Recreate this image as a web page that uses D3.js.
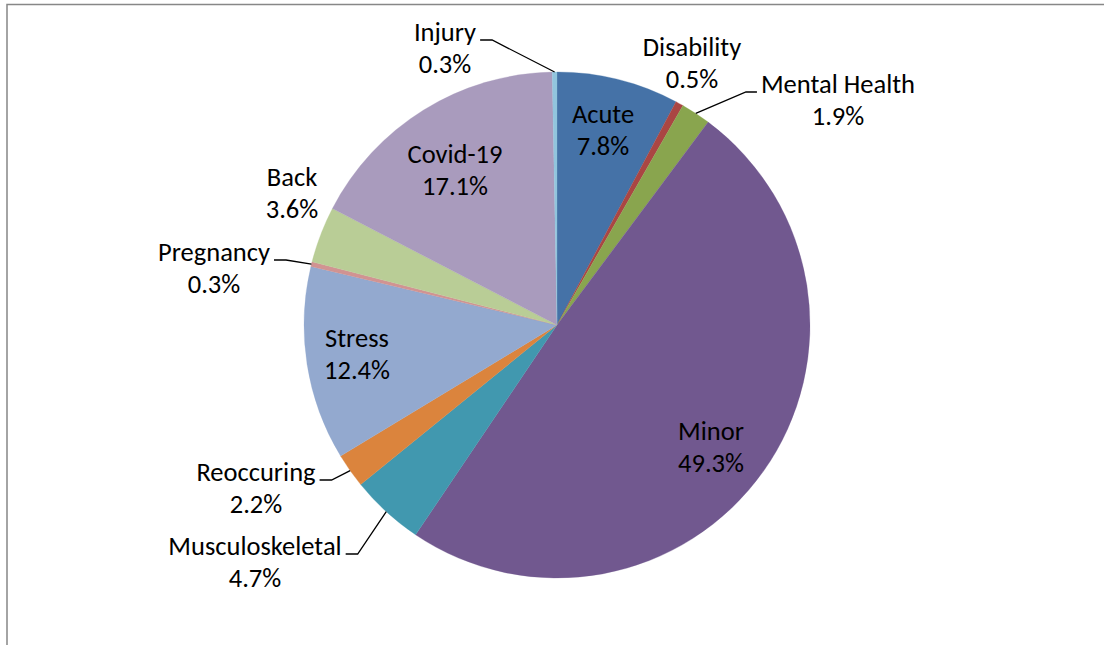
<!DOCTYPE html>
<html><head><meta charset="utf-8">
<script src="https://cdn.jsdelivr.net/npm/d3@7"></script>
<style>body{margin:0;background:#fff}svg{display:block}text{font-family:Carlito,Lato,"Open Sans",sans-serif;font-size:26.5px;fill:#000}</style>
</head><body>
<svg id="c" width="1104" height="645"></svg>
<script>
const categories = ["Acute","Disability","Mental Health","Minor","Musculoskeletal","Reoccuring","Stress","Pregnancy","Back","Covid-19","Injury"];
const values = [7.8,0.5,1.9,49.3,4.7,2.2,12.4,0.3,3.6,17.1,0.3];
const valueLabels = ["7.8%","0.5%","1.9%","49.3%","4.7%","2.2%","12.4%","0.3%","3.6%","17.1%","0.3%"];
const colors = ["#4572A7","#AA4643","#89A54E","#71588F","#4198AF","#DB843D","#93A9CF","#D19392","#B9CD96","#A99BBD","#92C5DE"];

// layout: label centres and leader anchor side
const labelPos = [
  {x:603,y:114},{x:692,y:47},{x:838,y:84},{x:711,y:431},{x:255,y:546},
  {x:256,y:472},{x:357,y:338},{x:214,y:252},{x:292,y:177},{x:455,y:154},{x:445,y:32}
];
const leaders = {2:"left",4:"right",5:"right",7:"right",10:"right"};

const svg = d3.select("#c");
svg.append("rect").attr("x",7).attr("y",4.5).attr("width",1120).attr("height",700)
  .attr("fill","none").attr("stroke","#878787").attr("stroke-width",1.5);

const cx=557, cy=325, R=253;
const pie = d3.pie().sort(null).value(d=>d)(values);
const arc = d3.arc().innerRadius(0).outerRadius(R);
const g = svg.append("g").attr("transform",`translate(${cx},${cy})`);
g.selectAll("path").data(pie).join("path").attr("d",arc)
  .attr("fill",(d,i)=>colors[i]).attr("stroke",(d,i)=>colors[i]).attr("stroke-width",0.3);

const lab = svg.append("g");
pie.forEach((d,i)=>{
  const p = labelPos[i];
  const t = lab.append("text").attr("text-anchor","middle");
  t.append("tspan").attr("x",p.x).attr("y",p.y+9).text(categories[i]);
  t.append("tspan").attr("x",p.x).attr("y",p.y+41).text(valueLabels[i]);
  if(leaders[i]){
    const w = t.select("tspan").node().getComputedTextLength();
    const a = (d.startAngle+d.endAngle)/2;
    const ex = cx + R*Math.sin(a), ey = cy - R*Math.cos(a);
    const side = leaders[i];
    const sx = side==="right" ? p.x + w/2 + 4 : p.x - w/2 - 4;
    const mx = side==="right" ? sx + 12 : sx - 11;
    const sy = p.y + 8;
    lab.append("path").attr("d",`M${sx},${sy}L${mx},${sy}L${ex},${ey}`)
      .attr("fill","none").attr("stroke","#000").attr("stroke-width",1.3);
  }
});
</script>
</body></html>
